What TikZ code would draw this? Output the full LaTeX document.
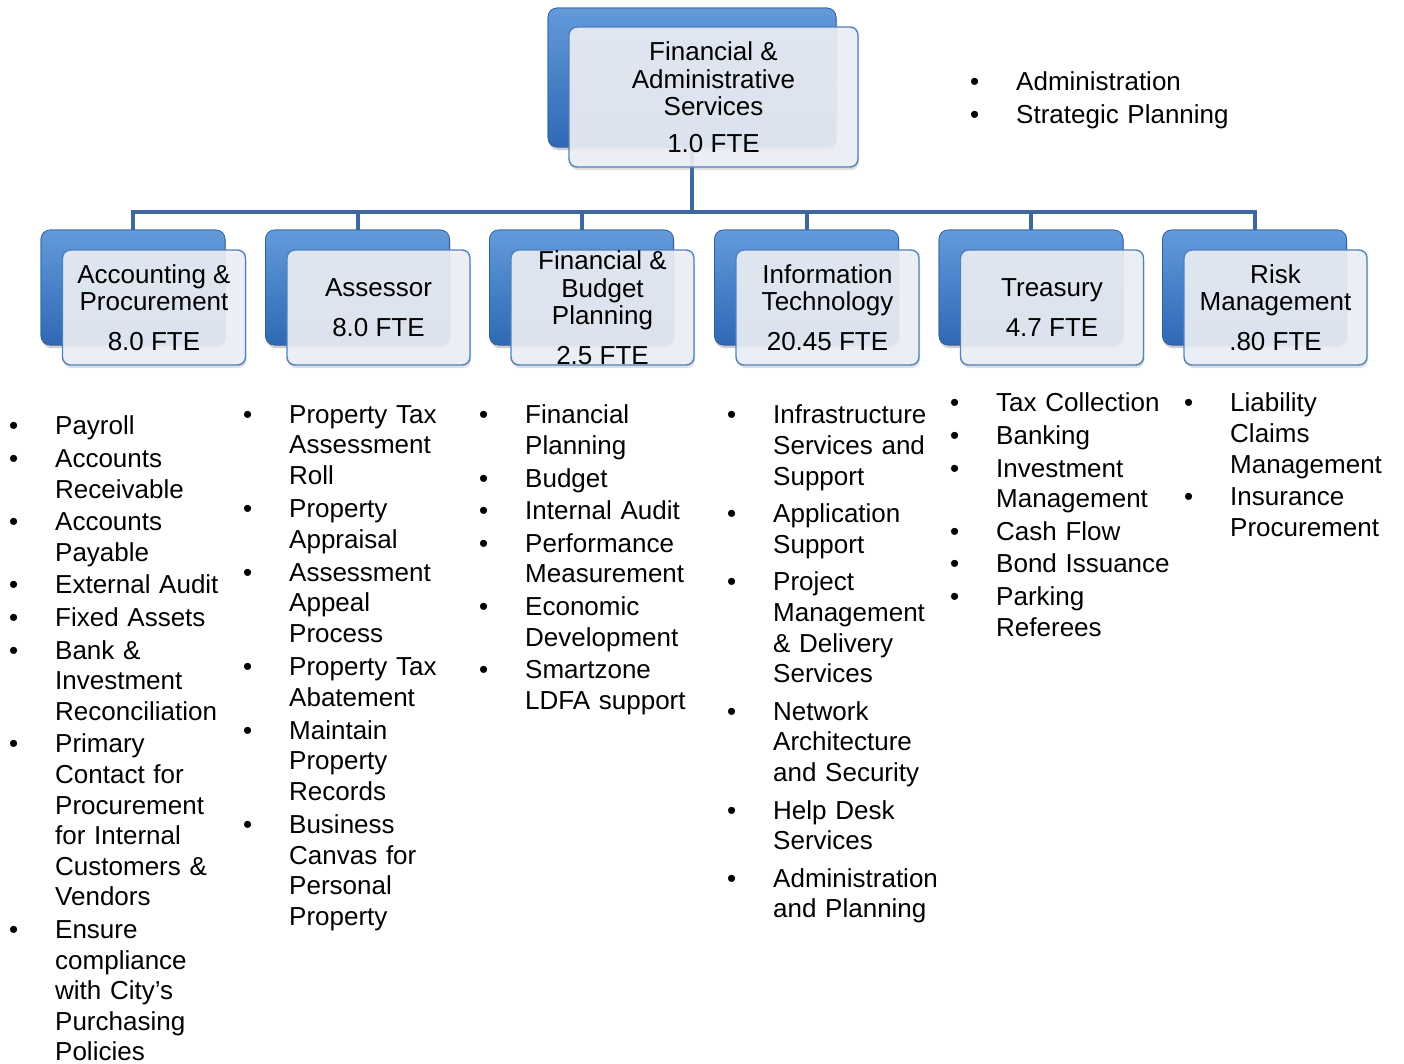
\documentclass[tikz,border=0pt]{standalone}
\usepackage{fontspec}
\setmainfont{Liberation Sans}
\usetikzlibrary{shadows}

\definecolor{bluetop}{RGB}{98,154,218}
\definecolor{bluebot}{RGB}{48,104,180}
\definecolor{frameblue}{RGB}{79,129,189}
\definecolor{cardfill}{RGB}{236,240,246}
\definecolor{linkblue}{RGB}{62,104,158}

% list item: bullet in a hanging indent, lines broken with \newline
\newcommand\bitem[1]{\par\noindent\hangindent=46pt\hangafter=1\makebox[46pt][l]{•}\strut#1\strut}

\tikzset{
  backbox/.style={rounded corners=9pt, inner sep=0pt, top color=bluetop, bottom color=bluebot,
    draw=bluebot!90!black, line width=0.6pt,
    drop shadow={opacity=0.22, shadow xshift=1pt, shadow yshift=-3pt}},
  frontbox/.style={rounded corners=8pt, inner sep=0pt, draw=frameblue, line width=1.4pt,
    fill=cardfill, fill opacity=0.9, text opacity=1, align=center,
    font=\fontsize{26}{27.5}\selectfont,
    drop shadow={opacity=0.25, shadow xshift=1pt, shadow yshift=-3pt}},
  topback/.style={backbox, minimum width=288pt, minimum height=139pt},
  topfront/.style={frontbox, minimum width=289pt, minimum height=140pt},
  subback/.style={backbox, minimum width=184pt, minimum height=115pt},
  subfront/.style={frontbox, minimum width=183pt, minimum height=115pt},
  link/.style={draw=linkblue, line width=4pt},
  bullets/.style={inner sep=0pt, anchor=north west, text width=#1,
    font=\fontsize{26}{30.6}\selectfont},
}

\begin{document}
\begin{tikzpicture}[x=1pt, y=-1pt]
\useasboundingbox (0,0) rectangle (1404,1063);

% department back boxes (define positions for the connectors)
\node[topback] (fas) at (692,77.5) {};
\foreach \n/\cx in {acc/133, ass/357.5, fbp/581.5, it/806.5, tre/1031, risk/1254.5}{
  \node[subback] (\n) at (\cx,287.5) {};
}

% connectors
\coordinate (bar) at (692,212);
\foreach \n in {acc, ass, fbp, it, tre, risk}{
  \draw[link] (fas.south) -- (fas.south |- bar) -| (\n.north);
}

% redraw back boxes above the connector ends
\node[topback] (fasb) at (692,77.5) {};
\foreach \n/\cx in {acc/133, ass/357.5, fbp/581.5, it/806.5, tre/1031, risk/1254.5}{
  \node[subback] (\n b) at (\cx,287.5) {};
}

% front cards with titles
\node[topfront] (fasf) at (713.5,97) {Financial \&\\Administrative\\Services\\[9pt]1.0 FTE};
\node[subfront] (accf) at (154,307.5) {Accounting \&\\Procurement\\[12pt]8.0 FTE};
\node[subfront] (assf) at (378.5,307.5) {Assessor\\[12pt]8.0 FTE};
\node[subfront] (fbpf) at (602.5,307.5) {Financial \&\\Budget\\Planning\\[12pt]2.5 FTE};
\node[subfront] (itf) at (827.5,307.5) {Information\\Technology\\[12pt]20.45 FTE};
\node[subfront] (tref) at (1052,307.5) {Treasury\\[12pt]4.7 FTE};
\node[subfront] (riskf) at (1275.5,307.5) {Risk\\Management\\[12pt].80 FTE};

% responsibilities
\node[bullets=300pt] (toplist) at (970,58) {\setlength\parskip{2pt}%
  \bitem{Administration}\bitem{Strategic Planning}\par};

\node[bullets=230pt] (acclist) at (9,402) {\setlength\parskip{2pt}%
  \bitem{Payroll}
  \bitem{Accounts\newline Receivable}
  \bitem{Accounts\newline Payable}
  \bitem{External Audit}
  \bitem{Fixed Assets}
  \bitem{Bank \&\newline Investment\newline Reconciliation}
  \bitem{Primary\newline Contact for\newline Procurement\newline for Internal\newline Customers \&\newline Vendors}
  \bitem{Ensure\newline compliance\newline with City’s\newline Purchasing\newline Policies}\par};

\node[bullets=230pt] (asslist) at (243,390) {\setlength\parskip{2.5pt}%
  \bitem{Property Tax\newline Assessment\newline Roll}
  \bitem{Property\newline Appraisal}
  \bitem{Assessment\newline Appeal\newline Process}
  \bitem{Property Tax\newline Abatement}
  \bitem{Maintain\newline Property\newline Records}
  \bitem{Business\newline Canvas for\newline Personal\newline Property}\par};

\node[bullets=240pt] (fbplist) at (479,391) {\setlength\parskip{2pt}%
  \bitem{Financial\newline Planning}
  \bitem{Budget}
  \bitem{Internal Audit}
  \bitem{Performance\newline Measurement}
  \bitem{Economic\newline Development}
  \bitem{Smartzone\newline LDFA support}\par};

\node[bullets=240pt] (itlist) at (727,386) {\setlength\parskip{7pt}%
  \bitem{Infrastructure\newline Services and\newline Support}
  \bitem{Application\newline Support}
  \bitem{Project\newline Management\newline \& Delivery\newline Services}
  \bitem{Network\newline Architecture\newline and Security}
  \bitem{Help Desk\newline Services}
  \bitem{Administration\newline and Planning}\par};

\node[bullets=240pt] (trelist) at (950,379) {\setlength\parskip{2pt}%
  \bitem{Tax Collection}
  \bitem{Banking}
  \bitem{Investment\newline Management}
  \bitem{Cash Flow}
  \bitem{Bond Issuance}
  \bitem{Parking\newline Referees}\par};

\node[bullets=230pt] (risklist) at (1184,379) {\setlength\parskip{2pt}%
  \bitem{Liability\newline Claims\newline Management}
  \bitem{Insurance\newline Procurement}\par};
\end{tikzpicture}
\end{document}
